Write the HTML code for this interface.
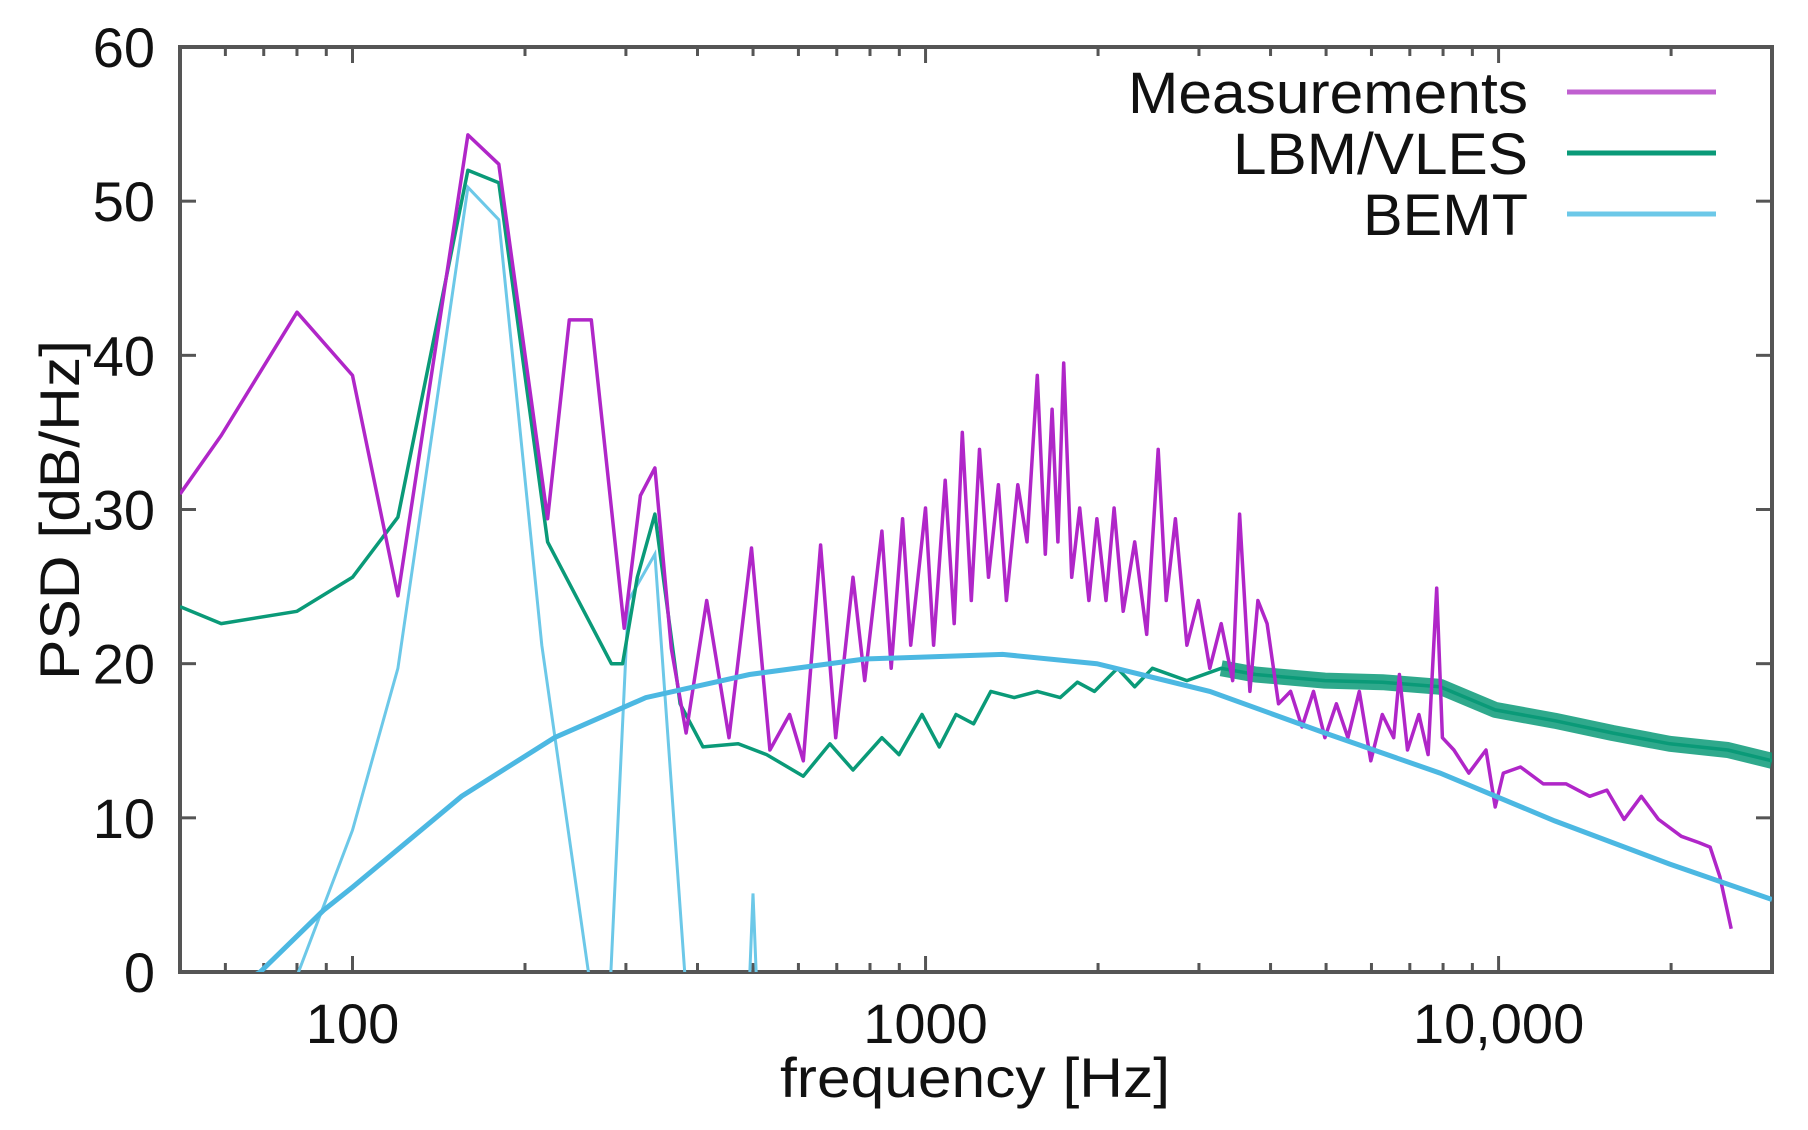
<!DOCTYPE html>
<html><head><meta charset="utf-8"><style>
html,body{margin:0;padding:0;background:#fff;}
svg{display:block;font-family:"Liberation Sans",sans-serif;}
</style></head><body>
<svg id="chart" width="1808" height="1130" viewBox="0 0 1808 1130">
<defs><clipPath id="plotclip"><rect x="180" y="47" width="1592" height="925"/></clipPath></defs>
<g id="grid"></g>
<g id="series" clip-path="url(#plotclip)"></g>
<g id="labels"></g>
<g id="legend"></g>
</svg>
<script>
const measF=[50,59,80,100,120,159,180,219,239,261,298,318,337,360,382,415,454,497,535,579,612,656,697,747,783,839,871,912,942,1000,1033,1082,1122,1159,1202,1242,1288,1340,1384,1449,1503,1567,1618,1663,1702,1742,1799,1858,1928,1991,2065,2133,2213,2317,2432,2547,2630,2729,2858,2992,3133,3281,3436,3532,3681,3802,3945,4130,4335,4539,4753,4977,5212,5458,5715,5984,6266,6561,6714,6934,7261,7534,7798,7980,8356,8872,9506,9863,10190,10920,11970,13120,14420,15450,16560,17740,19010,20840,22340,23390,24320,25460];
const measDB=[31,34.8,42.8,38.7,24.4,54.3,52.4,29.4,42.3,42.3,22.3,30.9,32.7,21,15.5,24.1,15.2,27.5,14.4,16.7,13.7,27.7,15.2,25.6,18.9,28.6,19.7,29.4,21.2,30.1,21.2,31.9,22.6,35.0,24.1,33.9,25.6,31.6,24.1,31.6,27.9,38.7,27.1,36.5,27.9,39.5,25.6,30.1,24.1,29.4,24.1,30.1,23.4,27.9,21.9,33.9,24.1,29.4,21.2,24.1,19.7,22.6,18.9,29.7,18.2,24.1,22.6,17.4,18.2,15.9,18.2,15.2,17.4,15.2,18.2,13.7,16.7,15.2,19.3,14.4,16.7,14.1,24.9,15.2,14.4,12.9,14.4,10.7,12.9,13.3,12.2,12.2,11.4,11.8,9.9,11.4,9.9,8.8,8.4,8.1,6.2,2.8];
const lbmF=[50,59,80,100,120,159,180,219,283,296,314,337,373,409,471,528,612,681,747,839,899,986,1057,1130,1213,1300,1428,1567,1718,1841,1972,2163,2317,2488,2858,3281,3767,4977,6266,7907,9863,12530,15810,19900,25120,30000];
const lbmDB=[23.7,22.6,23.4,25.6,29.5,52.0,51.2,27.9,20.0,20.0,25.6,29.7,17.4,14.6,14.8,14.1,12.7,14.8,13.1,15.2,14.1,16.7,14.6,16.7,16.1,18.2,17.8,18.2,17.8,18.8,18.2,19.7,18.5,19.7,18.9,19.7,19.3,18.9,18.8,18.5,17.0,16.3,15.5,14.8,14.4,13.7];
const bemtTonalF=[75,100,120,159,180,214,265,280,303,337,385,490,500,510];
const bemtTonalDB=[-3,9.2,19.7,50.9,48.8,21.2,-3,-3,24.1,27.1,-3,-3,5.1,-3];
const bemtF=[62,69,89,100,155,225,325,493,783,1363,1991,3133,4977,7907,12530,19900,30000];
const bemtDB=[-1,0,4,5.5,11.4,15.2,17.8,19.3,20.3,20.6,20.0,18.2,15.5,12.9,9.8,7.0,4.7];
const yTicks=[0,10,20,30,40,50,60];
const xTickVals=[100,1000,10000];
const xTickLabels=["100","1000","10,000"];

const L=180,R=1772,T=47,B=972;
const lmin=Math.log10(50),lmax=Math.log10(30000);
const xs=f=>L+(Math.log10(f)-lmin)/(lmax-lmin)*(R-L);
const ys=v=>B-v/60*(B-T);
const NS="http://www.w3.org/2000/svg";
function mk(tag,attrs,parent){const e=document.createElementNS(NS,tag);for(const k in attrs)e.setAttribute(k,attrs[k]);parent.appendChild(e);return e;}
const grid=document.getElementById('grid'),series=document.getElementById('series'),labels=document.getElementById('labels'),legend=document.getElementById('legend');

// frame
const fr=mk('rect',{x:L,y:T,width:R-L,height:B-T,fill:'none',stroke:'#555','stroke-width':4},grid);


// y ticks
yTicks.forEach(v=>{
  const y=ys(v);
  const t1=mk('line',{x1:L,x2:L+16,y1:y,y2:y,stroke:'#555','stroke-width':3},grid);
  
  
  const t2=mk('line',{x1:R,x2:R-16,y1:y,y2:y,stroke:'#555','stroke-width':3},grid);
  
  
  const tx=mk('text',{x:155,y:y+20,'text-anchor':'end','font-size':56,fill:'#111'},labels);
  tx.textContent=String(v);
  
  
});
// x ticks (major + minor)
for(let d=10;d<=10000;d*=10){for(let m=1;m<10;m++){const f=d*m;if(f<50||f>30000)continue;const x=xs(f);const len=m===1?16:9;
  const a=mk('line',{x1:x,x2:x,y1:B,y2:B-len,stroke:'#555','stroke-width':3},grid);
  
  
  const b=mk('line',{x1:x,x2:x,y1:T,y2:T+len,stroke:'#555','stroke-width':3},grid);
  
  
}}
xTickVals.forEach((f,i)=>{
  const tx=mk('text',{x:xs(f),y:1043,'text-anchor':'middle','font-size':56,fill:'#111'},labels);
  tx.textContent=xTickLabels[i];
  
  
});
const xt=mk('text',{x:975,y:1097,'text-anchor':'middle','font-size':56,fill:'#111',textLength:390,lengthAdjust:'spacingAndGlyphs'},labels);
xt.textContent='frequency [Hz]';


const yt=mk('text',{x:0,y:0,'text-anchor':'middle','font-size':56,fill:'#111',textLength:340,lengthAdjust:'spacingAndGlyphs',transform:'translate(79,510) rotate(-90)'},labels);
yt.textContent='PSD [dB/Hz]';



function pathD(F,V){return F.map((f,i)=>(i?'L':'M')+xs(f).toFixed(1)+' '+ys(V[i]).toFixed(1)).join(' ');}
// LBM band (thick noisy high-frequency part)
const idx=lbmF.findIndex(f=>f>=3000);
const band=mk('path',{d:pathD(lbmF.slice(idx),lbmDB.slice(idx)),fill:'none',stroke:'#0a9a78','stroke-width':16,'stroke-opacity':0.85,'stroke-linejoin':'round'},series);


const bt=mk('path',{d:pathD(bemtTonalF,bemtTonalDB),fill:'none',stroke:'#6cc8e8','stroke-width':3},series);


const lb=mk('path',{d:pathD(lbmF,lbmDB),fill:'none',stroke:'#0a9a78','stroke-width':3.5,'stroke-linejoin':'round'},series);


const ms=mk('path',{d:pathD(measF,measDB),fill:'none',stroke:'#b026c8','stroke-width':3.5,'stroke-linejoin':'round'},series);


const bb=mk('path',{d:pathD(bemtF,bemtDB),fill:'none',stroke:'#4cb8e2','stroke-width':5},series);



// legend
const leg=[['Measurements','#c060d0',92,400],['LBM/VLES','#0a9a78',153,295],['BEMT','#6cc8e8',214,165]];
leg.forEach(([n,c,y,w])=>{
  const t=mk('text',{x:1528,y:y+21,'text-anchor':'end','font-size':58,fill:'#111',textLength:w,lengthAdjust:'spacingAndGlyphs'},legend);
  t.textContent=n;
  
  
  const l=mk('line',{x1:1567,x2:1716,y1:y,y2:y,stroke:c,'stroke-width':5},legend);
  
  
});
</script>
</body></html>
